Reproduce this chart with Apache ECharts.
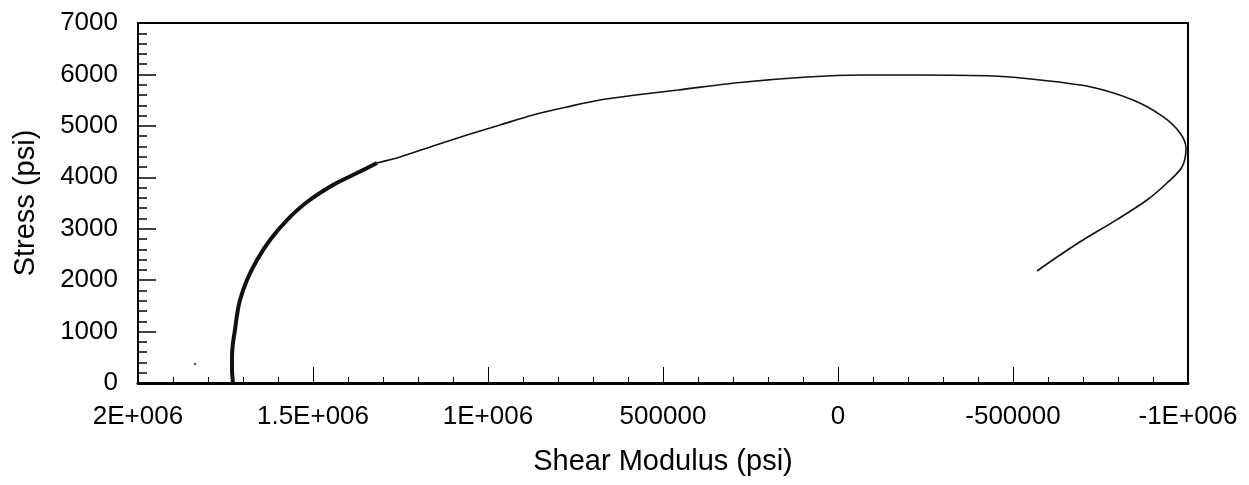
<!DOCTYPE html>
<html>
<head>
<meta charset="utf-8">
<script src="https://cdn.jsdelivr.net/npm/echarts@6/dist/echarts.min.js"></script>
<style>
	html, body { margin: 0; padding: 0; background: #fff; }
	#chart { width: 1249px; height: 485px; }
</style>
</head>
<body>
<div id="chart"></div>
<script>
//刻度
var xTicks = [2000000, 1500000, 1000000, 500000, 0, -500000, -1000000]
var xTickLabels = ['2E+006', '1.5E+006', '1E+006', '500000', '0', '-500000', '-1E+006']

//粗线段 (shear modulus, stress)
var thickModulus = [1728600, 1731400, 1731400, 1728600, 1722900, 1717100, 1708600, 1688600, 1660000, 1622900, 1574300, 1517100, 1442900, 1374300, 1317100]
var thickStress = [0, 253, 506, 778, 1031, 1322, 1614, 2003, 2392, 2781, 3169, 3519, 3850, 4083, 4278]

//细线段
var thinModulus = [1317100, 1251400, 1157100, 1060000, 965700, 871400, 774300, 680000, 565700, 457100, 280000, 88600, -62900, -234300, -442900, -577100, -720000, -842900, -928600, -977100, -994300, -982900, -940000, -882900, -797100, -700000, -634300, -568600]
var thinStress = [4278, 4394, 4608, 4822, 5017, 5211, 5367, 5503, 5610, 5697, 5843, 5950, 5989, 5989, 5969, 5892, 5761, 5503, 5178, 4861, 4569, 4200, 3889, 3558, 3177, 2781, 2489, 2178]

//扫描里的小点
var dotModulus = [1837000]
var dotStress = [370]

function pairs(xs, ys) {
	var result = []
	for (var x = 0; x < xs.length; x++) {
		result.push([xs[x], ys[x]])
	}
	return result
}

var font = '"Liberation Sans", Arial, sans-serif'
var chart = echarts.init(document.getElementById('chart'))

chart.setOption({
	animation: false,
	backgroundColor: '#fff',
	grid: {
		left: 138, right: 61, top: 23, bottom: 102,
		show: true, borderColor: '#000', borderWidth: 2, backgroundColor: 'transparent'
	},
	xAxis: {
		type: 'value',
		inverse: true,
		min: -1000000, max: 2000000, interval: 500000,
		name: 'Shear Modulus (psi)',
		nameLocation: 'middle',
		nameGap: 64,
		nameTextStyle: { fontFamily: font, fontSize: 29, color: '#000' },
		axisLine: { show: true, onZero: false, lineStyle: { color: '#000', width: 3 } },
		axisTick: { show: true, inside: true, length: 16, lineStyle: { color: '#000', width: 1 } },
		minorTick: { show: true, splitNumber: 5, length: 6, lineStyle: { color: '#000', width: 1 } },
		splitLine: { show: false },
		axisLabel: {
			fontFamily: font, fontSize: 26, color: '#000', margin: 21,
			formatter: function(v) {
				var i = xTicks.indexOf(v)
				return i >= 0 ? xTickLabels[i] : ''
			}
		}
	},
	yAxis: {
		type: 'value',
		min: 0, max: 7000, interval: 1000,
		name: 'Stress (psi)',
		nameLocation: 'middle',
		nameGap: 98,
		nameTextStyle: { fontFamily: font, fontSize: 29, color: '#000' },
		axisLine: { show: true, onZero: false, lineStyle: { color: '#000', width: 2 } },
		axisTick: { show: true, inside: true, length: 18, lineStyle: { color: '#000', width: 1.5 } },
		minorTick: { show: true, splitNumber: 5, length: 9, lineStyle: { color: '#000', width: 1.5 } },
		splitLine: { show: false },
		axisLabel: {
			fontFamily: font, fontSize: 26, color: '#000', margin: 20,
			formatter: function(v) { return String(v) }
		}
	},
	series: [
		{
			type: 'line',
			data: pairs(thickModulus, thickStress),
			smooth: 0.3,
			showSymbol: false,
			lineStyle: { color: '#111', width: 4 }
		},
		{
			type: 'line',
			data: pairs(thinModulus, thinStress),
			smooth: 0.3,
			showSymbol: false,
			lineStyle: { color: '#111', width: 1.6 }
		},
		{
			type: 'scatter',
			data: pairs(dotModulus, dotStress),
			symbolSize: 2.5,
			itemStyle: { color: '#333' }
		}
	]
})
</script>
</body>
</html>
